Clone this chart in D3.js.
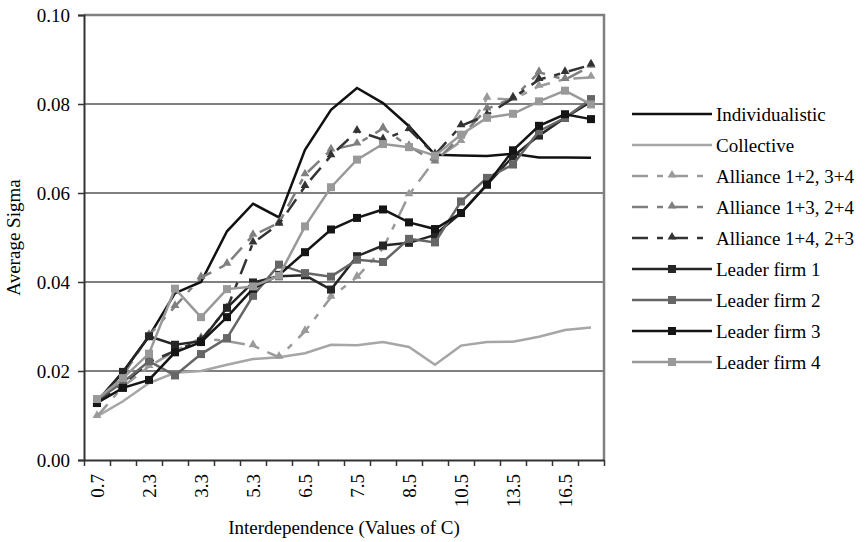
<!DOCTYPE html>
<html>
<head>
<meta charset="utf-8">
<script src="https://cdn.jsdelivr.net/npm/d3@7"></script>
<style>
  body { margin: 0; background: #fff; }
  text { font-family: "Liberation Serif", "Times New Roman", serif; fill: #000; }
</style>
</head>
<body>
<div class="chart"></div>
<script>
// categories (values of C); only every other one is labelled on the axis
let categories = ['0.7', '1.5', '2.3', '2.8', '3.3', '4.3', '5.3', '6', '6.5', '7', '7.5', '8', '8.5', '9.5', '10.5', '12', '13.5', '15', '16.5', '18'];
let yTicks = [0, 0.02, 0.04, 0.06, 0.08, 0.10];

let individualistic = [0.0130, 0.0198, 0.0278, 0.0375, 0.0400, 0.0514, 0.0576, 0.0545, 0.0697, 0.0787, 0.0836, 0.0802, 0.0750, 0.0686, 0.0684, 0.0683, 0.0688, 0.0680, 0.0680, 0.0679];
let collective = [0.0098, 0.0132, 0.0173, 0.0196, 0.0200, 0.0214, 0.0227, 0.0231, 0.0240, 0.0259, 0.0258, 0.0265, 0.0254, 0.0214, 0.0257, 0.0265, 0.0266, 0.0277, 0.0292, 0.0298];
let alliance12 = [0.0098, 0.0165, 0.0210, 0.0245, 0.0274, 0.0267, 0.0257, 0.0231, 0.0289, 0.0366, 0.0411, 0.0475, 0.0596, 0.0675, 0.0716, 0.0813, 0.0810, 0.0840, 0.0856, 0.0860];
let alliance13 = [0.0125, 0.0190, 0.0280, 0.0345, 0.0410, 0.0440, 0.0505, 0.0533, 0.0641, 0.0697, 0.0710, 0.0745, 0.0705, 0.0670, 0.0727, 0.0789, 0.0813, 0.0871, 0.0855, 0.0885];
let alliance14 = [0.0130, 0.0170, 0.0220, 0.0245, 0.0270, 0.0340, 0.0488, 0.0530, 0.0615, 0.0684, 0.0739, 0.0720, 0.0743, 0.0686, 0.0751, 0.0775, 0.0813, 0.0855, 0.0871, 0.0888];
let leader1 = [0.0132, 0.0198, 0.0278, 0.0259, 0.0267, 0.0342, 0.0399, 0.0413, 0.0415, 0.0383, 0.0458, 0.0482, 0.0488, 0.0506, 0.0555, 0.0619, 0.0682, 0.0729, 0.0769, 0.0805];
let leader2 = [0.0135, 0.0175, 0.0222, 0.0190, 0.0238, 0.0274, 0.0369, 0.0439, 0.0420, 0.0412, 0.0450, 0.0445, 0.0497, 0.0489, 0.0581, 0.0634, 0.0664, 0.0739, 0.0769, 0.0811];
let leader3 = [0.0128, 0.0162, 0.0180, 0.0242, 0.0265, 0.0321, 0.0385, 0.0416, 0.0467, 0.0518, 0.0544, 0.0563, 0.0534, 0.0519, 0.0555, 0.0619, 0.0696, 0.0751, 0.0777, 0.0766];
let leader4 = [0.0137, 0.0184, 0.0239, 0.0385, 0.0321, 0.0384, 0.0390, 0.0414, 0.0525, 0.0613, 0.0675, 0.0710, 0.0703, 0.0684, 0.0731, 0.0769, 0.0778, 0.0806, 0.0830, 0.0799];

let seriesNames = ['Individualistic', 'Collective', 'Alliance 1+2, 3+4', 'Alliance 1+3, 2+4', 'Alliance 1+4, 2+3', 'Leader firm 1', 'Leader firm 2', 'Leader firm 3', 'Leader firm 4'];
let seriesValues = [individualistic, collective, alliance12, alliance13, alliance14, leader1, leader2, leader3, leader4];

// look of each series
let looks = [
	{color: '#111', dash: null, marker: null},
	{color: '#a6a6a6', dash: null, marker: null},
	{color: '#9a9a9a', dash: '16,9,6,9', marker: 'triangle'},
	{color: '#7f7f7f', dash: '16,9,6,9', marker: 'triangle'},
	{color: '#333', dash: '16,9,6,9', marker: 'triangle'},
	{color: '#262626', dash: null, marker: 'square'},
	{color: '#666', dash: null, marker: 'square'},
	{color: '#151515', dash: null, marker: 'square'},
	{color: '#999', dash: null, marker: 'square'}
];

let margin = {top: 15, left: 84};
let width = 520;
let height = 445;
let fontSize = 19;

let svg = d3.select('.chart')
	.append('svg')
	.attr('width', 865)
	.attr('height', 542);

let g = svg.append('g')
	.attr('transform', 'translate(' + margin.left + ', ' + margin.top + ')');

let xScale = d3.scaleBand()
	.domain(categories)
	.range([0, width])
	.padding(0);

let xCenter = c => xScale(c) + xScale.bandwidth() / 2;

let yScale = d3.scaleLinear()
	.domain([0, 0.1])
	.range([height, 0]);

// gridlines
g.selectAll('.grid')
	.data(yTicks.filter(d => d > 0 && d < 0.1))
	.enter()
	.append('line')
	.attr('x1', 0)
	.attr('x2', width)
	.attr('y1', d => yScale(d))
	.attr('y2', d => yScale(d))
	.style('stroke', '#000')
	.style('stroke-width', 1);

// plot border top + right (gray)
g.append('path')
	.attr('d', 'M0,' + yScale(0.1) + 'H' + width + 'V' + height)
	.style('fill', 'none')
	.style('stroke', '#808080')
	.style('stroke-width', 2.5);

// y axis
let yAxis = g.append('g')
	.call(d3.axisLeft(yScale).tickValues(yTicks).tickFormat(d3.format('.2f')).tickSize(6).tickPadding(8));
yAxis.select('.domain').style('stroke', '#333').style('stroke-width', 2);
yAxis.selectAll('.tick line').style('stroke', '#333').style('stroke-width', 1.5);
yAxis.selectAll('text').style('font-size', fontSize + 'px').style('font-family', '"Liberation Serif", serif').attr('fill', '#000');

// x axis: tick marks at category boundaries
let boundaryScale = d3.scaleLinear().domain([0, categories.length]).range([0, width]);
let xTickAxis = g.append('g')
	.attr('transform', 'translate(0, ' + height + ')')
	.call(d3.axisBottom(boundaryScale).ticks(categories.length).tickFormat('').tickSize(6).tickSizeOuter(0));
xTickAxis.select('.domain').style('stroke', '#333').style('stroke-width', 2);
xTickAxis.selectAll('.tick line').style('stroke', '#333').style('stroke-width', 1.5);

// x axis labels, every other category, rotated
let xAxis = g.append('g')
	.attr('transform', 'translate(0, ' + height + ')')
	.call(d3.axisBottom(xScale).tickSize(0).tickFormat((d, i) => i % 2 === 0 ? d : ''));
xAxis.select('.domain').remove();
xAxis.selectAll('text')
	.style('font-size', fontSize + 'px')
	.style('font-family', '"Liberation Serif", serif')
	.attr('fill', '#000')
	.attr('text-anchor', 'end')
	.attr('transform', 'rotate(-90)')
	.attr('x', -14)
	.attr('y', 0)
	.attr('dy', '0.35em');

// axis titles
svg.append('text')
	.attr('x', margin.left + width / 2)
	.attr('y', 534)
	.attr('text-anchor', 'middle')
	.style('font-size', fontSize + 'px')
	.text('Interdependence (Values of C)');

svg.append('text')
	.attr('transform', 'translate(20, ' + (margin.top + height / 2) + ') rotate(-90)')
	.attr('text-anchor', 'middle')
	.style('font-size', fontSize + 'px')
	.text('Average Sigma');

let line = d3.line()
	.x((d, i) => xCenter(categories[i]))
	.y(d => yScale(d));

let triangle = d3.symbol().type(d3.symbolTriangle).size(34);

function drawMarker(sel, look, x, y) {
	if (look.marker === 'square') {
		sel.append('rect')
			.attr('x', x - 4)
			.attr('y', y - 4)
			.attr('width', 8)
			.attr('height', 8)
			.style('fill', look.color);
	} else if (look.marker === 'triangle') {
		sel.append('path')
			.attr('d', triangle)
			.attr('transform', 'translate(' + x + ',' + (y - 1) + ')')
			.style('fill', look.color);
	}
}

seriesValues.forEach((values, s) => {
	let look = looks[s];
	let sg = g.append('g');
	sg.append('path')
		.attr('d', line(values))
		.style('fill', 'none')
		.style('stroke', look.color)
		.style('stroke-width', 2.5)
		.style('stroke-dasharray', look.dash);
	values.forEach((v, i) => drawMarker(sg, look, xCenter(categories[i]), yScale(v)));
});

// legend
let legend = svg.append('g');
seriesNames.forEach((name, s) => {
	let look = looks[s];
	let ly = 114 + s * 31;
	let row = legend.append('g');
	row.append('line')
		.attr('x1', 632)
		.attr('x2', 712)
		.attr('y1', ly)
		.attr('y2', ly)
		.style('stroke', look.color)
		.style('stroke-width', 2.5)
		.style('stroke-dasharray', look.dash);
	drawMarker(row, look, 672, ly);
	row.append('text')
		.attr('x', 716)
		.attr('y', ly)
		.attr('dy', '0.35em')
		.style('font-size', fontSize + 'px')
		.text(name);
});
</script>
</body>
</html>
